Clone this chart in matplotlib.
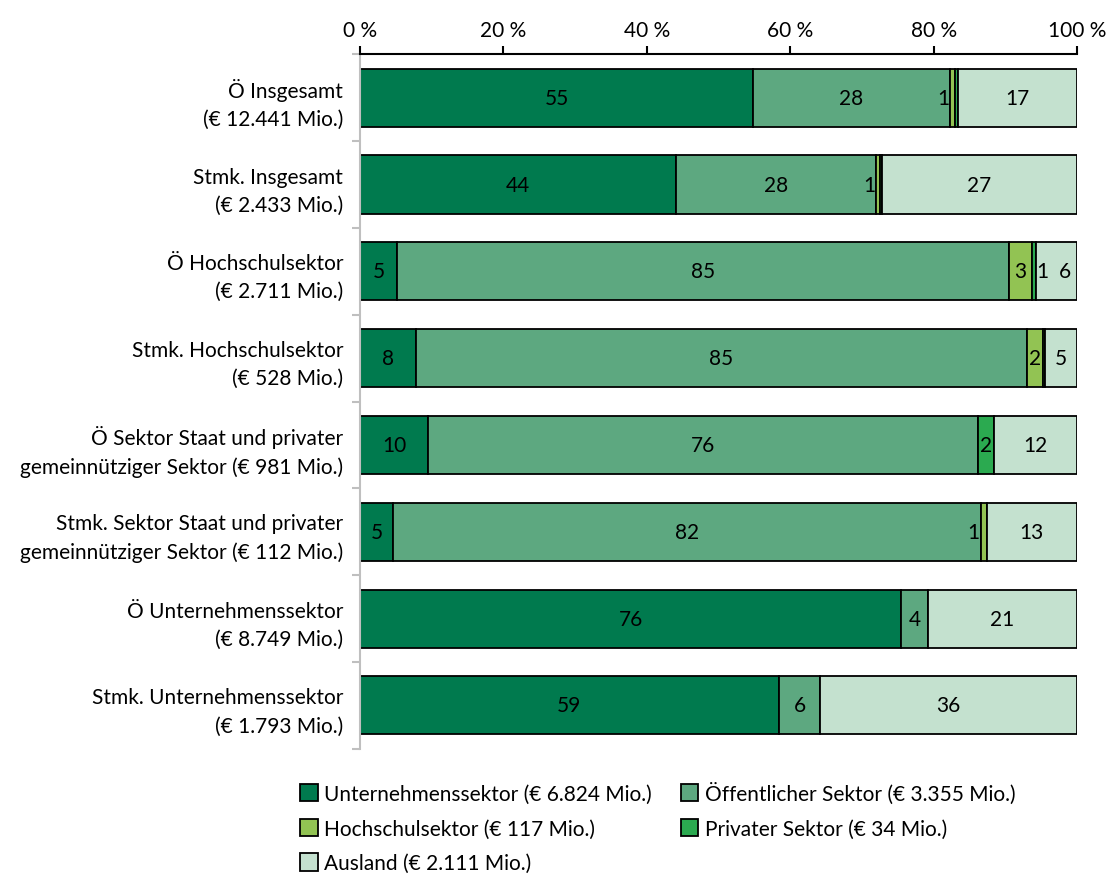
import numpy as np
import matplotlib.pyplot as plt

plt.rcParams['font.family'] = ['Lato', 'DejaVu Sans']

categories = [
    "Ö Insgesamt\n(€ 12.441 Mio.)",
    "Stmk. Insgesamt\n(€ 2.433 Mio.)",
    "Ö Hochschulsektor\n(€ 2.711 Mio.)",
    "Stmk. Hochschulsektor\n(€ 528 Mio.)",
    "Ö Sektor Staat und privater\ngemeinnütziger Sektor (€ 981 Mio.)",
    "Stmk. Sektor Staat und privater\ngemeinnütziger Sektor (€ 112 Mio.)",
    "Ö Unternehmenssektor\n(€ 8.749 Mio.)",
    "Stmk. Unternehmenssektor\n(€ 1.793 Mio.)",
]

series_names = [
    "Unternehmenssektor (€ 6.824 Mio.)",
    "Öffentlicher Sektor (€ 3.355 Mio.)",
    "Hochschulsektor (€ 117 Mio.)",
    "Privater Sektor (€ 34 Mio.)",
    "Ausland (€ 2.111 Mio.)",
]

unternehmen = [54.8, 44.1, 5.2, 7.8, 9.5, 4.6, 75.5, 58.4]
oeffentlich = [27.5, 27.9, 85.3, 85.2, 76.7, 82.0, 3.7, 5.8]
hochschul = [0.7, 0.5, 3.2, 2.2, 0.0, 0.8, 0.0, 0.0]
privat = [0.4, 0.3, 0.6, 0.3, 2.2, 0.0, 0.0, 0.0]
ausland = [16.6, 27.2, 5.7, 4.5, 11.6, 12.6, 20.8, 35.8]

# shown labels (None = no label)
lab_unt = ["55", "44", "5", "8", "10", "5", "76", "59"]
lab_oef = ["28", "28", "85", "85", "76", "82", "4", "6"]
lab_hoch = ["1", "1", "3", "2", None, "1", None, None]
lab_priv = [None, None, "1", None, "2", None, None, None]
lab_aus = ["17", "27", "6", "5", "12", "13", "21", "36"]

colors = ["#007A4E", "#5DA880", "#92C353", "#2BAA50", "#C4E1CF"]

data = [unternehmen, oeffentlich, hochschul, privat, ausland]
labels = [lab_unt, lab_oef, lab_hoch, lab_priv, lab_aus]

fs = 15

fig = plt.figure(figsize=(11.11, 8.78), dpi=100)
ax = fig.add_axes([0.324, 0.146, 0.6454, 0.791])

y = np.arange(len(categories))
left = np.zeros(len(categories))
bars = []
for vals, col, name in zip(data, colors, series_names):
    b = ax.barh(y, vals, left=left, height=0.67, color=col,
                edgecolor="black", linewidth=1.3, label=name)
    bars.append(b)
    left = left + np.array(vals)

# data labels
left = np.zeros(len(categories))
for k, (vals, labs) in enumerate(zip(data, labels)):
    for i, (v, t) in enumerate(zip(vals, labs)):
        if t is None:
            continue
        x = left[i] + v / 2
        ha = "center"
        if k == 2 and v < 1.5:
            # too narrow: put it just left of the segment
            x = left[i] - 0.15
            ha = "right"
        if k == 3 and i == 2:
            x = left[i] + v + 0.9
        if k == 4 and i == 2:
            x = left[i] + v / 2 + 1.2
        ax.text(x, i, t, ha=ha, va="center", fontsize=fs, color="black")
    left = left + np.array(vals)

n = len(categories)
ax.set_xlim(0, 100)
ax.set_ylim(n - 0.5, -0.5)
ax.xaxis.tick_top()
ax.set_xticks(np.arange(0, 101, 20))
ax.set_xticklabels([f"{v} %" for v in range(0, 101, 20)], fontsize=fs)
ax.tick_params(axis="x", length=6, width=1.5, color="black", pad=4)

ax.set_yticks(y)
ax.set_yticklabels(categories, fontsize=fs, linespacing=1.5)
ax.tick_params(axis="y", length=0, pad=12)
ax.set_yticks(np.arange(-0.5, n, 1), minor=True)
ax.tick_params(axis="y", which="minor", length=6, width=1.5, color="#BFBFBF")

for s in ["right", "bottom"]:
    ax.spines[s].set_visible(False)
ax.spines["top"].set_color("black")
ax.spines["top"].set_linewidth(1.5)
ax.spines["left"].set_color("#BFBFBF")
ax.spines["left"].set_linewidth(1.5)

order = [0, 2, 4, 1, 3]
handles = [bars[i] for i in order]
names = [series_names[i] for i in order]
fig.legend(handles, names, ncol=2, loc="lower left",
           bbox_to_anchor=(0.253, -0.017), frameon=False, fontsize=fs,
           handlelength=0.85, handleheight=0.9, handletextpad=0.3,
           columnspacing=1.4, labelspacing=0.7)

fig.savefig("out.png", dpi=100)
